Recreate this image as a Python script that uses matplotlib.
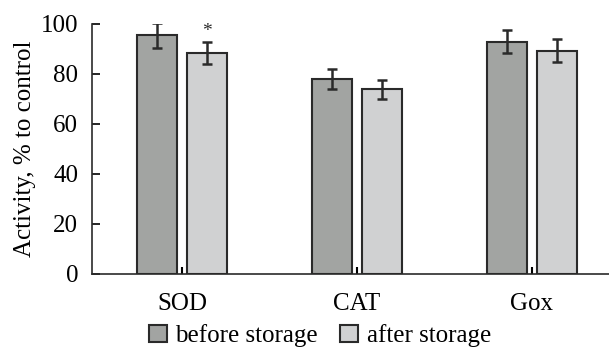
import numpy as np
import matplotlib.pyplot as plt

plt.rcParams['font.family'] = ['Liberation Serif', 'DejaVu Serif']

enzymes = ['SOD', 'CAT', 'Gox']
before = [95.5, 78, 93]
before_err = [5, 4, 4.5]
after = [88.3, 74, 89.3]
after_err = [4.4, 3.8, 4.6]
labels = ['before storage', 'after storage']

x = np.arange(len(enzymes))
w = 0.226
off = 0.143

fig = plt.figure(figsize=(6.09, 3.49), dpi=100)
ax = fig.add_axes([92 / 609, 75 / 349, 1 - 92 / 609, 250 / 349])

err_kw = dict(ecolor='#2a2a2a', elinewidth=1.8, capsize=3.5, capthick=1.8)
b1 = ax.bar(x - off, before, w, yerr=before_err, color='#a2a4a2',
            edgecolor='#2a2a2a', linewidth=1.5, error_kw=err_kw, label=labels[0])
b2 = ax.bar(x + off, after, w, yerr=after_err, color='#d0d1d2',
            edgecolor='#2a2a2a', linewidth=1.5, error_kw=err_kw, label=labels[1])

# significance mark
ax.text(x[0] + off, after[0] + after_err[0] + 0.8, '*', ha='center', va='bottom',
        fontsize=14, color='#2a2a2a')

ax.set_xlim(-0.514, 2.44)
ax.set_ylim(0, 100)
ax.set_yticks([0, 20, 40, 60, 80, 100])
ax.set_xticks(x)
ax.set_xticklabels(enzymes)
ax.set_ylabel('Activity, % to control', fontsize=18, labelpad=3)
ax.tick_params(axis='y', direction='in', length=6, width=1.2, pad=10, labelsize=18)
ax.tick_params(axis='x', direction='in', length=5, width=1.5, pad=14, labelsize=18)
for s in ['top', 'right']:
    ax.spines[s].set_visible(False)
for s in ['left', 'bottom']:
    ax.spines[s].set_linewidth(1.2)
    ax.spines[s].set_color('#2a2a2a')

fig.legend(handles=[b1, b2], labels=labels, loc='center', ncol=2,
           bbox_to_anchor=(320 / 609, 1 - 336 / 349), frameon=False,
           fontsize=18, handlelength=0.7, handleheight=0.7,
           handletextpad=0.35, columnspacing=0.9, borderpad=0)

fig.savefig('out.png', dpi=100)
